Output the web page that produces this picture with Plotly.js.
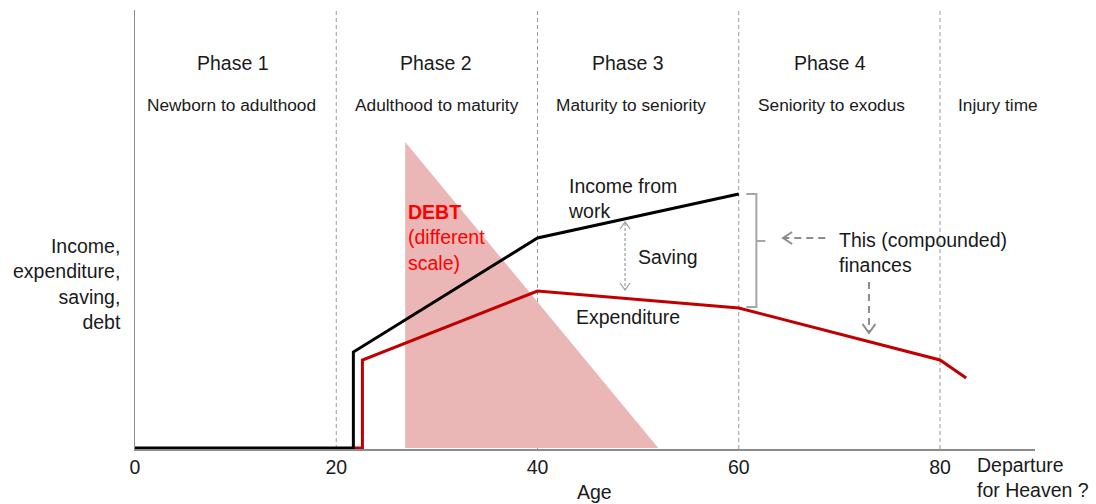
<!DOCTYPE html>
<html><head><meta charset="utf-8">
<script src="https://cdn.plot.ly/plotly-3.0.1.min.js"></script>
<style>html,body{margin:0;padding:0;background:#fff}#chart{width:1096px;height:504px}</style>
</head><body><div id="chart"></div>
<script>
// ---- data (age on x, arbitrary scale on y) ----
const incomeAge = [0, 21.7, 21.7, 40, 60];
const incomeVal = [0, 0, 96, 210, 254];
const expAge = [21.7, 22.6, 22.6, 40, 60, 80, 82.6];
const expVal = [0, 0, 88, 157, 140, 88, 70];
const debtAge = [26.85, 26.85, 52.0];
const debtVal = [0, 306, 0];
const phaseBounds = [20, 40, 60, 80];
const tickVals = [0, 20, 40, 60, 80];
const tickText = ['0', '20', '40', '60', '80'];
const phaseTitles = ['Phase 1', 'Phase 2', 'Phase 3', 'Phase 4'];
const phaseTitleX = [9.74, 29.9, 49.0, 69.07];
const phaseSubs = ['Newborn to adulthood', 'Adulthood to maturity', 'Maturity to seniority', 'Seniority to exodus', 'Injury time'];
const phaseSubX = [9.54, 30.0, 49.3, 69.2, 85.8];

const FONT = 'Liberation Sans, Arial, sans-serif';
const TXT = '#1a1a1a';
const GRAY = '#8c8c8c';

const traces = [
  {x: debtAge, y: debtVal, mode: 'lines', fill: 'toself', fillcolor: '#ebb6b6',
   line: {width: 0, color: '#ebb6b6'}, hoverinfo: 'skip', showlegend: false},
  {x: expAge, y: expVal, mode: 'lines', line: {color: '#c00000', width: 3}, showlegend: false},
  {x: incomeAge, y: incomeVal, mode: 'lines', line: {color: '#000000', width: 3}, showlegend: false}
];

const shapes = [];
phaseBounds.forEach(b => shapes.push({type: 'line', xref: 'x', yref: 'paper', x0: b, x1: b, y0: 0, y1: 1,
  line: {color: '#9a9a9a', width: 1, dash: '4px,3px'}, layer: 'below'}));
// bracket
const br = {color: '#a6a6a6', width: 2};
shapes.push({type: 'path', xref: 'x', yref: 'y', path: 'M60.75,254 L61.75,254 L61.75,141 L60.75,141', line: br});
shapes.push({type: 'line', xref: 'x', yref: 'y', x0: 61.75, x1: 62.65, y0: 207, y1: 207, line: br});
// left-pointing dashed arrow
const ar = {color: '#8c8c8c', width: 2, dash: '7px,5px'};
const arh = {color: '#8c8c8c', width: 2};
shapes.push({type: 'line', xref: 'x', yref: 'y', x0: 68.6, x1: 64.5, y0: 210, y1: 210, line: ar});
shapes.push({type: 'path', xref: 'x', yref: 'y', path: 'M65.3,216 L64.4,210 L65.3,204', line: arh});
// down dashed arrow
shapes.push({type: 'line', xref: 'x', yref: 'y', x0: 72.94, x1: 72.94, y0: 166, y1: 116, line: ar});
shapes.push({type: 'path', xref: 'x', yref: 'y', path: 'M72.3,124 L72.94,115 L73.58,124', line: arh});
// saving double arrow
const sv = {color: '#9a9a9a', width: 1.2, dash: '3px,2px'};
const svh = {color: '#9a9a9a', width: 1.2};
shapes.push({type: 'line', xref: 'x', yref: 'y', x0: 48.7, x1: 48.7, y0: 225, y1: 159, line: sv});
shapes.push({type: 'path', xref: 'x', yref: 'y', path: 'M48.2,219 L48.7,226 L49.2,219', line: svh});
shapes.push({type: 'path', xref: 'x', yref: 'y', path: 'M48.2,165 L48.7,158 L49.2,165', line: svh});

const ann = [];
function txt(text, x, y, size, opts) {
  ann.push(Object.assign({text: text, x: x, y: y, xref: 'x', yref: 'y', showarrow: false,
    font: {family: FONT, size: size, color: TXT}, xanchor: 'center', yanchor: 'middle'}, opts || {}));
}
phaseTitles.forEach((t, i) => txt(t, phaseTitleX[i], 385, 19.5));
phaseSubs.forEach((t, i) => txt(t, phaseSubX[i], 343, 17.3));
txt('Income from<br>work', 42.83, 249.5, 19.5, {xanchor: 'left', align: 'left'});
txt('<b>DEBT</b><br>(different<br>scale)', 26.93, 211, 19.5, {xanchor: 'left', align: 'left', font: {family: FONT, size: 19.5, color: '#ff0000'}});
txt('Saving', 49.8, 191, 19.5, {xanchor: 'left'});
txt('Expenditure', 43.63, 131, 19.5, {xanchor: 'left'});
txt('This (compounded)<br>finances', 69.75, 196, 19.5, {xanchor: 'left', align: 'left'});
txt('Income,<br>expenditure,<br>saving,<br>debt', -0.0133, 0.376, 19.5, {xref: 'paper', yref: 'paper', xanchor: 'right', align: 'right'});
txt('Age', 0.51, -0.098, 19.5, {xref: 'paper', yref: 'paper'});
txt('Departure<br>for Heaven ?', 0.933, -0.066, 19.5, {xref: 'paper', yref: 'paper', xanchor: 'left', align: 'left'});

const layout = {
  width: 1096, height: 504,
  margin: {l: 135, r: 61, t: 10, b: 55},
  paper_bgcolor: '#ffffff', plot_bgcolor: '#ffffff',
  showlegend: false,
  font: {family: FONT, color: TXT},
  xaxis: {range: [0, 89.44], showgrid: false, zeroline: false, showline: true, linecolor: GRAY, linewidth: 1.5,
    tickvals: tickVals, ticktext: tickText, ticks: '', tickfont: {family: FONT, size: 19.5, color: TXT}},
  yaxis: {range: [-1, 438], showgrid: false, zeroline: false, showline: true, linecolor: GRAY, linewidth: 1.5,
    showticklabels: false, ticks: ''},
  shapes: shapes,
  annotations: ann
};
Plotly.newPlot('chart', traces, layout, {displayModeBar: false, staticPlot: true});
</script></body></html>
